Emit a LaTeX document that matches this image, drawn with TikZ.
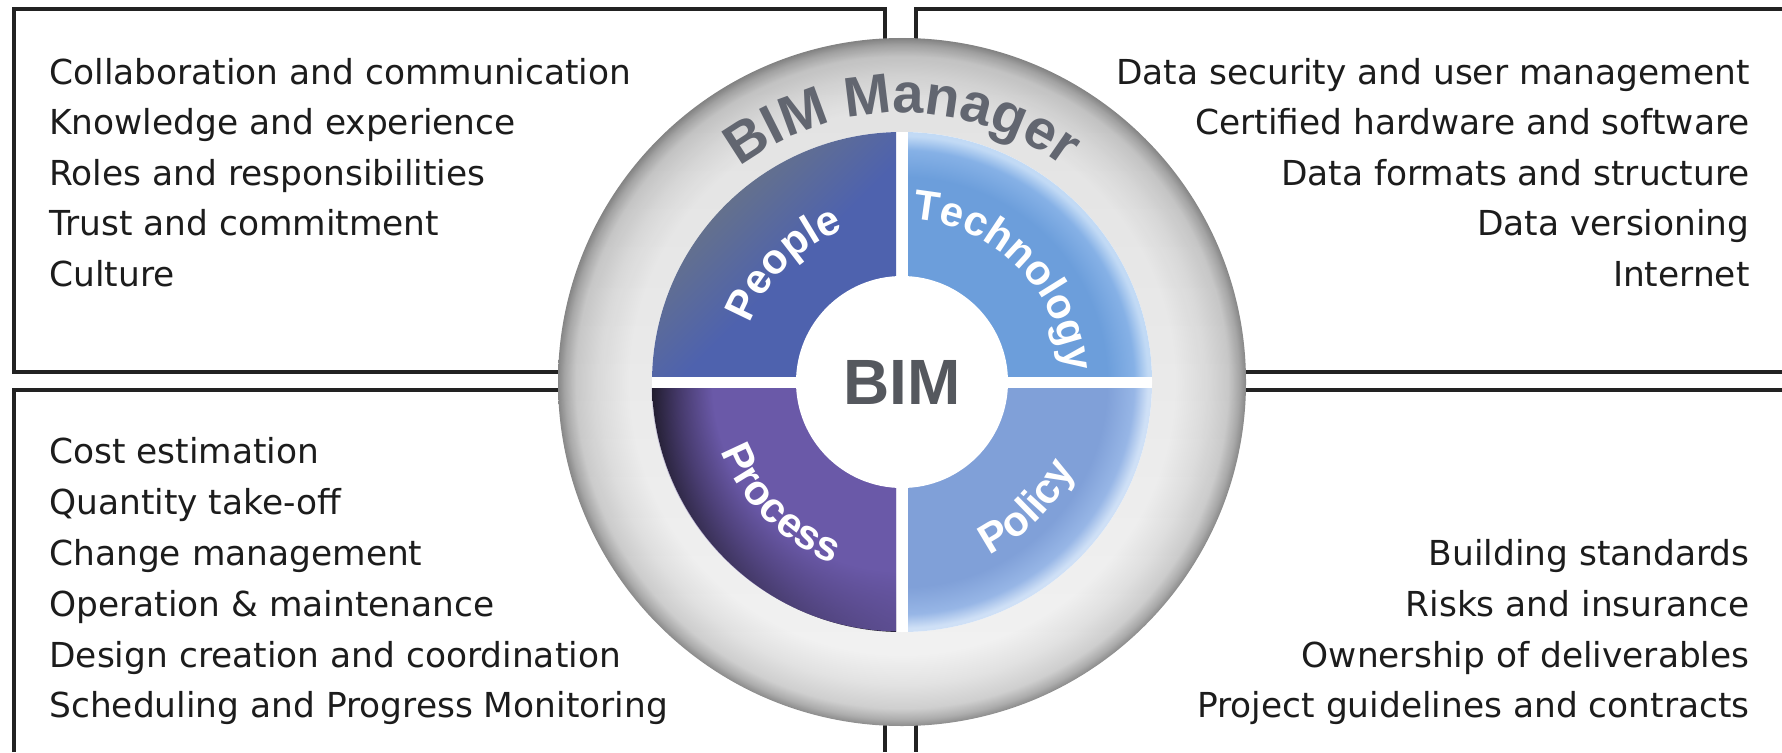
\documentclass[tikz,border=0pt]{standalone}
\usepackage{fontspec}
\setmainfont{DejaVu Sans}
\newfontfamily\arialfont{Liberation Sans}
\usetikzlibrary{decorations.text,fadings}
\definecolor{textdark}{HTML}{1C1C1C}
\definecolor{boxdark}{HTML}{222222}
\definecolor{bimgray}{HTML}{55585E}
\definecolor{mgrgray}{HTML}{626670}
\definecolor{ringA}{HTML}{F3F3F3}
\definecolor{ringB}{HTML}{E3E3E3}
\definecolor{ringC}{HTML}{D0D0D0}
\definecolor{ringD}{HTML}{ADADAD}
\definecolor{ringE}{HTML}{8C8C8C}
\definecolor{pplL}{HTML}{66728A}
\definecolor{pplM}{HTML}{4E62AE}
\definecolor{tech}{HTML}{6C9EDB}
\definecolor{techB}{HTML}{86B1E6}
\definecolor{techC}{HTML}{C2DAF5}
\definecolor{proc}{HTML}{6A59A8}
\definecolor{procB}{HTML}{3A3058}
\definecolor{procC}{HTML}{141218}
\definecolor{pol}{HTML}{80A0D8}
\definecolor{polB}{HTML}{97B6E6}
\definecolor{polC}{HTML}{CFE0F6}
\pgfdeclareradialshading{ringshade}{\pgfpoint{0bp}{0bp}}{color(0bp)=(white); color(18.2bp)=(ringA); color(19.8bp)=(ringA); color(22bp)=(ringB); color(23.7bp)=(ringC); color(24.5bp)=(ringD); color(25bp)=(ringE); color(50bp)=(ringE)}
\pgfdeclareradialshading{techshade}{\pgfpoint{0bp}{0bp}}{color(0bp)=(tech); color(20.5bp)=(tech); color(23.2bp)=(techB); color(24.6bp)=(techC); color(25bp)=(techC); color(50bp)=(techC)}
\pgfdeclareradialshading{polshade}{\pgfpoint{0bp}{0bp}}{color(0bp)=(pol); color(20.5bp)=(pol); color(23.2bp)=(polB); color(24.6bp)=(polC); color(25bp)=(polC); color(50bp)=(polC)}
\pgfdeclareradialshading{procshade}{\pgfpoint{0bp}{0bp}}{color(0bp)=(proc); color(19bp)=(proc); color(22.5bp)=(procB); color(25bp)=(procC); color(50bp)=(procC)}
\pgfdeclarehorizontalshading{pplshade}{100bp}{color(0bp)=(pplL); color(24bp)=(pplL); color(34bp)=(pplM); color(100bp)=(pplM)}
\tikzfading[name=topdark, top color=transparent!0, bottom color=transparent!100]
\tikzfading[name=procfade, left color=transparent!100, middle color=transparent!80, right color=transparent!0]
\begin{document}
\begin{tikzpicture}[x=0.5pt,y=0.5pt,
  boxline/.style={draw=boxdark, line width=1.6pt},
  item/.style={font=\fontsize{17.2}{20}\selectfont, text=textdark, inner sep=0pt},
  bimtext/.style={font=\arialfont\bfseries\fontsize{32}{34}\selectfont, text=bimgray, inner sep=0pt}]
\useasboundingbox (0,0) rectangle (1782,752);
\fill[white] (0,0) rectangle (1782,752);
% frames
\draw[boxline] (14,380) rectangle (885,743);
\draw[boxline] (14,0) -- (14,362) -- (885,362) -- (885,0);
\draw[boxline] (1782,743) -- (916,743) -- (916,380) -- (1782,380);
\draw[boxline] (1782,362) -- (916,362) -- (916,0);
% lists
\node[item, anchor=base west] (pe1) at (49,668) {Collaboration and communication};
\node[item, anchor=base west] (pe2) at (49,617.5) {Knowledge and experience};
\node[item, anchor=base west] (pe3) at (49,567) {Roles and responsibilities};
\node[item, anchor=base west] (pe4) at (49,516.5) {Trust and commitment};
\node[item, anchor=base west] (pe5) at (49,466) {Culture};
\node[item, anchor=base east] (te1) at (1750,668) {Data security and user management};
\node[item, anchor=base east] (te2) at (1750,617.5) {Certified hardware and software};
\node[item, anchor=base east] (te3) at (1750,567) {Data formats and structure};
\node[item, anchor=base east] (te4) at (1750,516.5) {Data versioning};
\node[item, anchor=base east] (te5) at (1750,466) {Internet};
\node[item, anchor=base west] (pr1) at (49,289) {Cost estimation};
\node[item, anchor=base west] (pr2) at (49,238) {Quantity take-off};
\node[item, anchor=base west] (pr3) at (49,187) {Change management};
\node[item, anchor=base west] (pr4) at (49,136) {Operation \& maintenance};
\node[item, anchor=base west] (pr5) at (49,85) {Design creation and coordination};
\node[item, anchor=base west] (pr6) at (49,35) {Scheduling and Progress Monitoring};
\node[item, anchor=base east] (po1) at (1750,187) {Building standards};
\node[item, anchor=base east] (po2) at (1750,136) {Risks and insurance};
\node[item, anchor=base east] (po3) at (1750,85) {Ownership of deliverables};
\node[item, anchor=base east] (po4) at (1750,35) {Project guidelines and contracts};
% ring
\coordinate (C) at (902,370);
\shade[shading=ringshade] (C) circle (344);
\fill[black, fill opacity=0.07, path fading=topdark, even odd rule] (C) circle (344) (C) circle (250);
\fill[white] (C) circle (250);
% quadrants
\begin{scope}
  \clip (602,376) rectangle (896,670);
  \shade[shading=pplshade, shading angle=-45] (C) circle (250);
\end{scope}
\begin{scope}
  \clip (908,376) rectangle (1202,670);
  \shade[shading=techshade] (C) circle (250);
\end{scope}
\begin{scope}
  \clip (602,70) rectangle (896,364);
  \shade[shading=procshade] (C) circle (250);
  \fill[proc, path fading=procfade, fading angle=-45] (C) circle (250);
\end{scope}
\begin{scope}
  \clip (908,70) rectangle (1202,364);
  \shade[shading=polshade] (C) circle (250);
\end{scope}
\fill[white] (C) circle (106);
\node[bimtext] (bim) at (C) {BIM};
% curved labels
\path[decorate, decoration={text along path, text align=center, text color=mgrgray,
  text={|\arialfont\bfseries\fontsize{28}{30}\selectfont|BIM Manager}}]
  (C) ++(150:269) arc[start angle=150, end angle=30, radius=269];
\path[decorate, decoration={text along path, text align=center, text color=white,
  text={|\arialfont\bfseries\fontsize{21}{24}\selectfont|People}}]
  (C) ++(178:163) arc[start angle=178, end angle=92, radius=163];
\path[decorate, decoration={text along path, text align=center, text color=white,
  text={|\arialfont\bfseries\fontsize{21}{24}\selectfont|Technology}}]
  (C) ++(88:163) arc[start angle=88, end angle=2, radius=163];
\path[decorate, decoration={text along path, text align=center, text color=white,
  text={|\arialfont\bfseries\fontsize{21}{24}\selectfont|Process}}]
  (C) ++(182:194) arc[start angle=182, end angle=268, radius=194];
\path[decorate, decoration={text along path, text align=center, text color=white,
  text={|\arialfont\bfseries\fontsize{21}{24}\selectfont|Policy}}]
  (C) ++(272:194) arc[start angle=272, end angle=358, radius=194];
\end{tikzpicture}
\end{document}
